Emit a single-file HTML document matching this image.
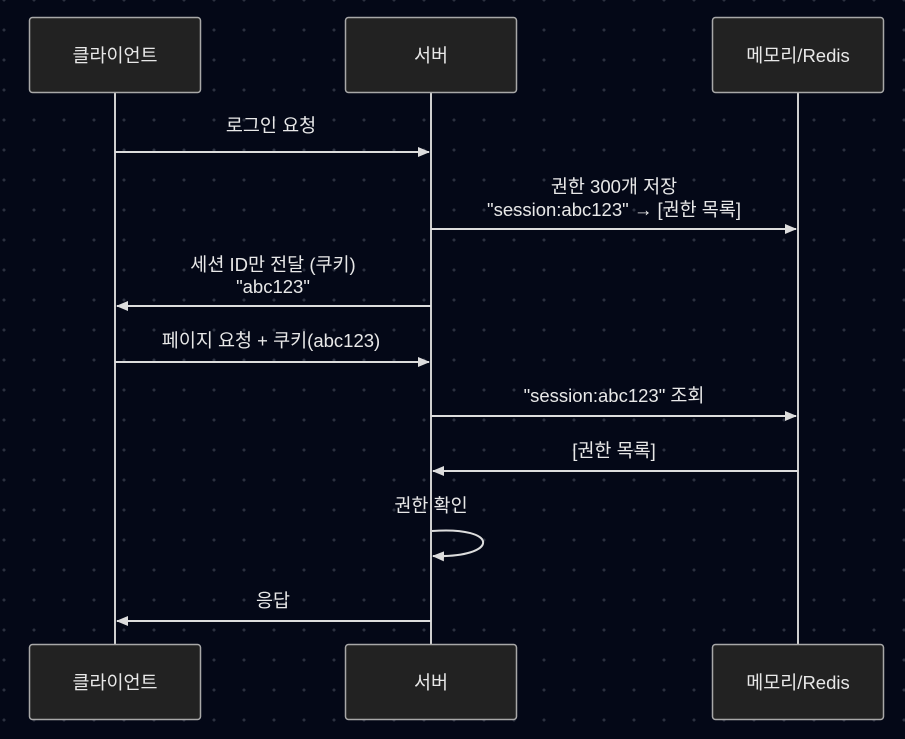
<!DOCTYPE html>
<html><head><meta charset="utf-8"><style>
html,body{margin:0;padding:0;background:#020617;}
body{width:905px;height:739px;overflow:hidden;position:relative;
background-color:#040817;
background-image:radial-gradient(circle,#2c3140 1.4px,transparent 1.6px);
background-size:30px 30px;background-position:-11px -15px;
font-family:"Liberation Sans","Noto Sans CJK KR",sans-serif;}
svg{position:absolute;left:0;top:0}
text{fill:#e8e8e8;font-family:"Liberation Sans","Noto Sans CJK KR",sans-serif;font-size:18.5px;text-anchor:middle}
</style></head><body>
<svg width="905" height="739" viewBox="0 0 905 739">
<defs><marker id="a" markerWidth="12" markerHeight="12" refX="11" refY="6" orient="auto" markerUnits="userSpaceOnUse"><path d="M0,1 L12,6 L0,11 z" fill="#ddd"/></marker></defs>
<g stroke="#cfcfcf" stroke-width="2">
<line x1="115" y1="92" x2="115" y2="645"/>
<line x1="431" y1="92" x2="431" y2="645"/>
<line x1="798" y1="92" x2="798" y2="645"/>
</g>
<g fill="#222" stroke="#a8a8a8" stroke-width="1.5">
<rect x="29.5" y="17.5" width="171" height="75" rx="3"/>
<rect x="345.5" y="17.5" width="171" height="75" rx="3"/>
<rect x="712.5" y="17.5" width="171" height="75" rx="3"/>
<rect x="29.5" y="644.5" width="171" height="75" rx="3"/>
<rect x="345.5" y="644.5" width="171" height="75" rx="3"/>
<rect x="712.5" y="644.5" width="171" height="75" rx="3"/>
</g>
<text x="115" y="62">클라이언트</text><text x="431" y="62">서버</text><text x="798" y="62">메모리/Redis</text>
<text x="115" y="689">클라이언트</text><text x="431" y="689">서버</text><text x="798" y="689">메모리/Redis</text>
<g stroke="#ddd" stroke-width="2" fill="none" marker-end="url(#a)">
<line x1="115" y1="152" x2="429" y2="152"/>
<line x1="431" y1="229" x2="796" y2="229"/>
<line x1="431" y1="306" x2="117" y2="306"/>
<line x1="115" y1="362" x2="429" y2="362"/>
<line x1="431" y1="416" x2="796" y2="416"/>
<line x1="798" y1="471" x2="433" y2="471"/>
<path d="M432,531 C500,526 500,558 433,556"/>
<line x1="431" y1="621" x2="117" y2="621"/>
</g>
<text x="271" y="132">로그인 요청</text>
<text x="614" y="193">권한 300개 저장</text>
<text x="614" y="216">"session:abc123" → [권한 목록]</text>
<text x="273" y="271">세션 ID만 전달 (쿠키)</text>
<text x="273" y="293">"abc123"</text>
<text x="271" y="347">페이지 요청 + 쿠키(abc123)</text>
<text x="614" y="402">"session:abc123" 조회</text>
<text x="614" y="457">[권한 목록]</text>
<text x="431" y="512">권한 확인</text>
<text x="273" y="607">응답</text>
</svg>
</body></html>
